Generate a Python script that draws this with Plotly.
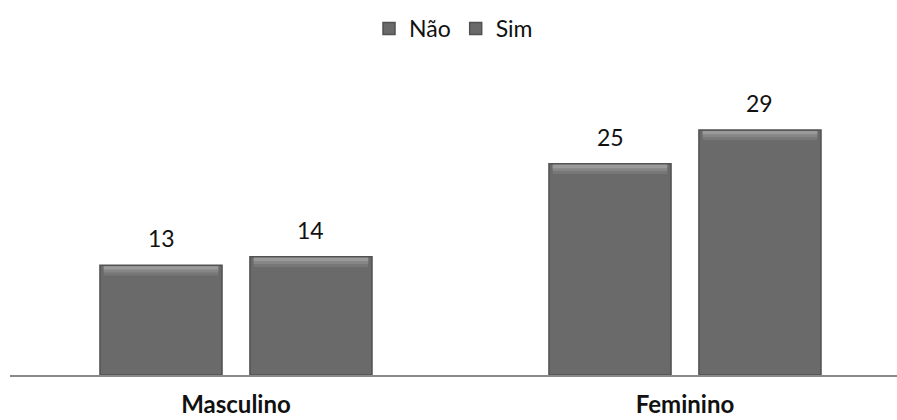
import plotly.graph_objects as go

# Survey answers by sex
categorias = ["Masculino", "Feminino"]
nao = [13, 25]
sim = [14, 29]
series = [("Não", nao), ("Sim", sim)]

FONT = "Lato, 'Open Sans', sans-serif"
BAR_FILL = "#6a6a6a"
BAR_EDGE = "#525252"
BARGAP = 0.332
GROUPGAP = 0.186
half_offset = (1 - BARGAP) / 4  # centre offset of each bar within its group

# bevel highlight bands drawn over the top of each bar (height in axis units, colour)
BEVEL = [(1.1, "#777777"), (0.75, "#868686"), (0.4, "#9a9a9a")]

xs = list(range(len(categorias)))

fig = go.Figure()
for k, (name, vals) in enumerate(series):
    fig.add_trace(go.Bar(
        x=xs, y=vals, name=name, offsetgroup=str(k),
        marker=dict(color=BAR_FILL, line=dict(color=BAR_EDGE, width=1.5)),
        hoverinfo="skip",
    ))
for k, (name, vals) in enumerate(series):
    for h, col in BEVEL:
        fig.add_trace(go.Bar(
            x=xs, y=[h] * len(vals), base=[v - h - 0.12 for v in vals],
            offsetgroup=str(k), showlegend=False, hoverinfo="skip",
            marker=dict(color=col, line=dict(width=0)), width=0.255,
        ))

# value labels above each bar
annotations = []
for k, (name, vals) in enumerate(series):
    sign = -1 if k == 0 else 1
    for i, v in zip(xs, vals):
        annotations.append(dict(
            x=i + sign * half_offset, y=v, xref="x", yref="y",
            text=str(v), showarrow=False, yanchor="bottom", yshift=11,
            font=dict(family=FONT, size=23, color="#111"),
        ))

fig.update_layout(
    width=897, height=420,
    margin=dict(l=10, r=0, t=60, b=45),
    paper_bgcolor="white", plot_bgcolor="white",
    barmode="group", bargap=BARGAP, bargroupgap=GROUPGAP,
    showlegend=True,
    legend=dict(orientation="h", x=0.5, xanchor="center", y=1.10, yanchor="middle",
                font=dict(family=FONT, size=23, color="#111"),
                itemwidth=30, traceorder="normal"),
    xaxis=dict(range=[-0.5033, 1.4722], tickvals=xs, ticktext=categorias,
               showgrid=False, zeroline=False, showline=True, linecolor="#8a8a8a",
               linewidth=2, ticks="", ticklabelstandoff=7,
               tickfont=dict(family=FONT, size=24, color="#111", weight="bold")),
    yaxis=dict(range=[0, 37.28], visible=False, showgrid=False, zeroline=False),
    annotations=annotations,
    font=dict(family=FONT),
)

fig.write_html("out.html")
